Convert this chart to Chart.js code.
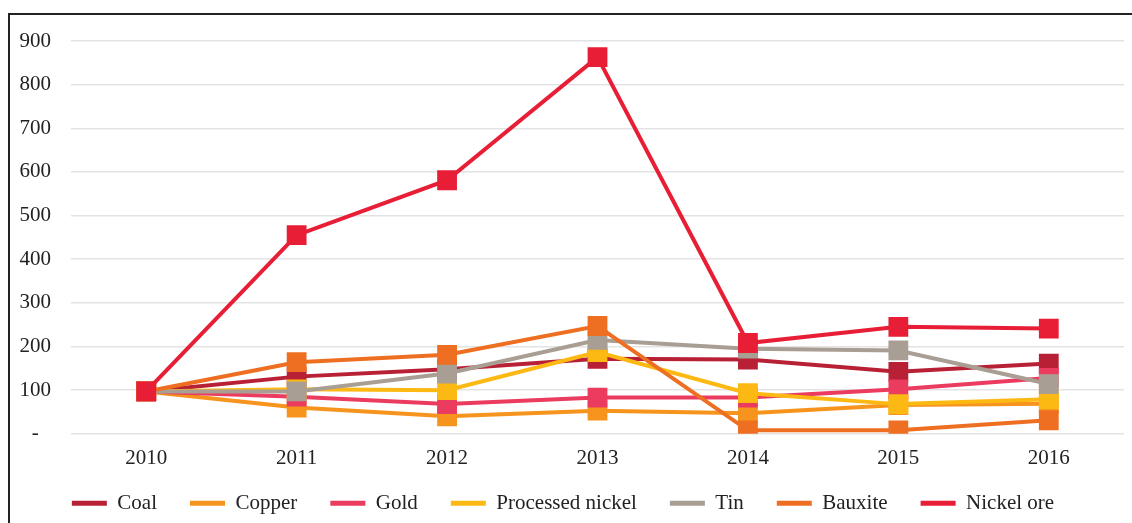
<!DOCTYPE html>
<html>
<head>
<meta charset="utf-8">
<script src="https://cdn.jsdelivr.net/npm/chart.js@4/dist/chart.umd.min.js"></script>
<style>
  html, body { margin: 0; padding: 0; background: #fff; overflow: hidden; }
  #frame { position: absolute; left: 8px; top: 13px; width: 1200px; height: 600px;
           border-top: 2px solid #222; border-left: 2px solid #222; }
  #wrap { position: absolute; left: 10px; top: 16px; width: 1128px; height: 508px; }
</style>
</head>
<body>
<div id="frame"></div>
<div id="wrap"><canvas id="c"></canvas></div>
<script>
const categories = ['2010', '2011', '2012', '2013', '2014', '2015', '2016'];
const seriesNames = ['Coal', 'Copper', 'Gold', 'Processed nickel', 'Tin', 'Bauxite', 'Nickel ore'];
const coal = [97, 131, 148, 172, 170, 142, 161];
const copper = [97, 60, 40, 53, 47, 66, 69];
const gold = [97, 85, 68, 83, 83, 102, 128];
const processedNickel = [97, 102, 100, 187, 93, 68, 79];
const tin = [97, 97, 138, 215, 195, 191, 114];
const bauxite = [97, 164, 181, 247, 8, 8, 31];
const nickelOre = [97, 455, 581, 863, 208, 245, 241];
const yTicks = [0, 100, 200, 300, 400, 500, 600, 700, 800, 900];

const colors = ['#B82035', '#F7941D', '#EB3C5F', '#FDB913', '#A89E94', '#EE6F22', '#E81E36'];
const values = [coal, copper, gold, processedNickel, tin, bauxite, nickelOre];

const datasets = seriesNames.map((name, i) => ({
  label: name,
  data: values[i],
  borderColor: colors[i],
  backgroundColor: colors[i],
  borderWidth: 4,
  pointStyle: 'rect',
  pointRadius: 14,
  pointHoverRadius: 14,
  pointBorderWidth: 0,
  pointBackgroundColor: colors[i],
  tension: 0,
  order: seriesNames.length - i
}));

const legendPlacer = {
  id: 'legendPlacer',
  afterLayout(chart) {
    const lg = chart.legend;
    if (!lg) return;
    const h = lg.height;
    lg.top = chart.chartArea.bottom + 26;
    lg.bottom = lg.top + h;
    lg.left -= 10;
    lg.right -= 10;
  }
};

new Chart(document.getElementById('c'), {
  type: 'line',
  data: { labels: categories, datasets: datasets },
  plugins: [legendPlacer],
  options: {
    responsive: true,
    maintainAspectRatio: false,
    animation: false,
    layout: { padding: { top: 25, right: 2, left: 0, bottom: -23 } },
    plugins: {
      tooltip: { enabled: false },
      legend: {
        position: 'bottom',
        labels: {
          font: { family: 'Liberation Serif', size: 21 },
          color: '#222',
          boxWidth: 35,
          boxHeight: 5,
          padding: 33,
          sort: (a, b) => a.datasetIndex - b.datasetIndex,
          generateLabels: (chart) => {
            const items = Chart.defaults.plugins.legend.labels.generateLabels(chart);
            items.forEach(it => { it.lineWidth = 0; });
            return items;
          }
        }
      }
    },
    scales: {
      x: {
        offset: true,
        afterFit: (axis) => { axis.paddingLeft = 0; axis.paddingRight = 0; },
        grid: { display: false, drawTicks: false },
        border: { display: false },
        ticks: { font: { family: 'Liberation Serif', size: 21 }, color: '#222', padding: 12 }
      },
      y: {
        min: 0,
        max: 900,
        afterBuildTicks: (axis) => { axis.ticks = yTicks.map(v => ({ value: v })); },
        afterFit: (axis) => { axis.width = 61; axis.paddingTop = 0; axis.paddingBottom = 0; },
        grid: { color: '#e3e3e3', lineWidth: 1.5, drawTicks: false },
        border: { display: false },
        ticks: {
          crossAlign: 'center',
          padding: 20,
          font: { family: 'Liberation Serif', size: 21 },
          color: '#222',
          callback: (v) => v === 0 ? '-' : String(v)
        }
      }
    }
  }
});
</script>
</body>
</html>
